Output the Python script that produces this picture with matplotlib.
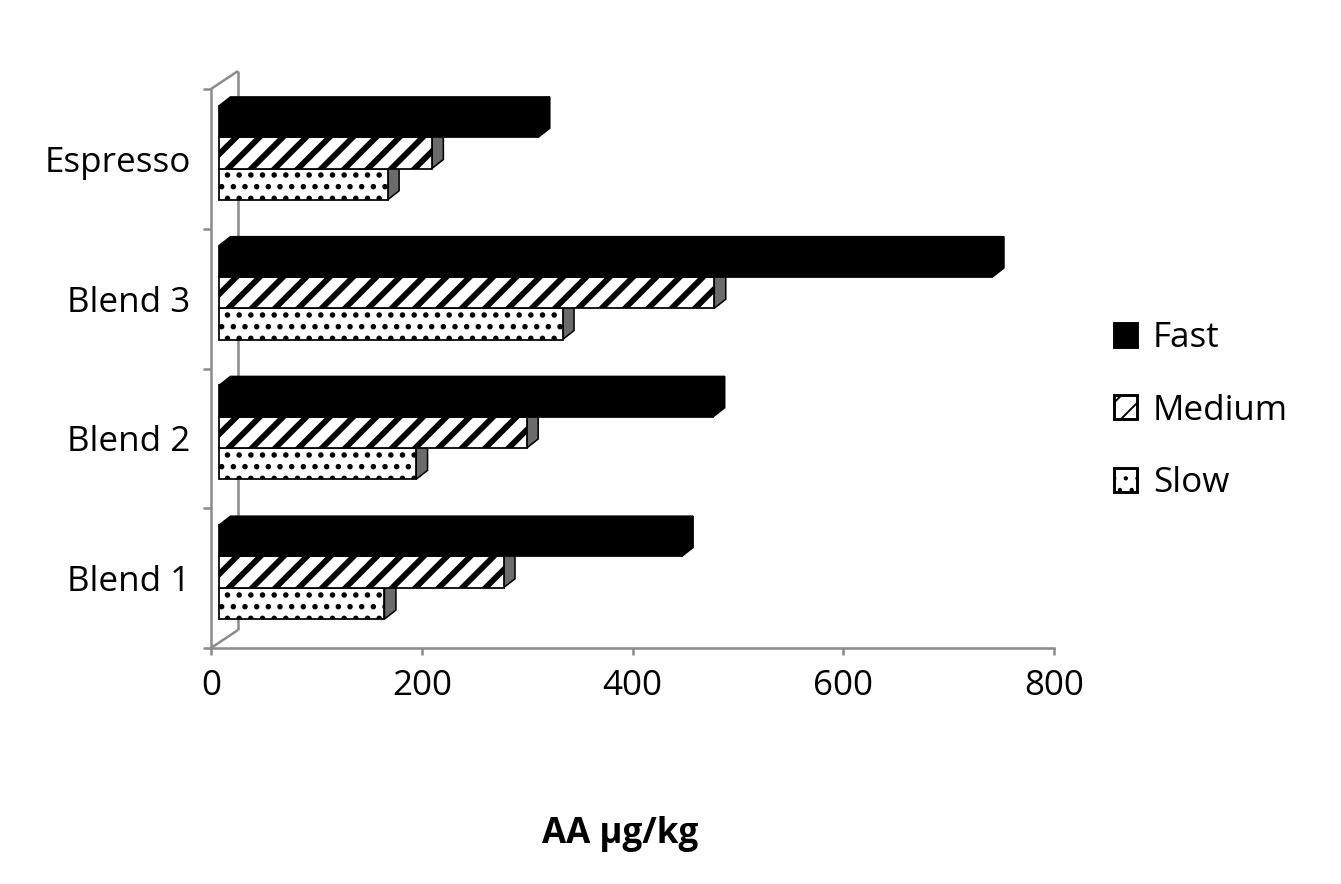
import matplotlib
matplotlib.use('Agg')
import matplotlib.pyplot as plt
from matplotlib.patches import Polygon, Patch

# ---------------- data ----------------
categories = ['Blend 1', 'Blend 2', 'Blend 3', 'Espresso']
fast = [439, 469, 734, 303]
medium = [270, 292, 470, 202]
slow = [157, 187, 326, 160]
series_names = ['Fast', 'Medium', 'Slow']
xticks = [0, 200, 400, 600, 800]
x_title = 'AA µg/kg'

# ---------------- figure ----------------
W, H, DPI = 1341, 884, 140
plt.rcParams['font.family'] = ['Open Sans', 'DejaVu Sans']
fig = plt.figure(figsize=(W / DPI, H / DPI), dpi=DPI)
fig.patch.set_facecolor('white')

ax = fig.add_axes([211 / W, (H - 648) / H, 843 / W, 559 / H])
ax.set_xlim(0, 800)
ax.set_ylim(-0.5, 3.5)
ax.patch.set_alpha(0)

ux = 800 / 843      # data units per pixel (x)
uy = 4 / 559        # data units per pixel (y)

GRAY = '#8c8c8c'
SIDE = '#6b6b6b'
wall_dx, wall_dy = 27 * ux, 18 * uy
bar_ox, bar_oy = 8 * ux, 6 * uy
bar_dx, bar_dy = 11.5 * ux, 9 * uy
h = 31.3 * uy

# ---------------- walls ----------------
y0, y1 = -0.5, 3.5
wall_kw = dict(color=GRAY, lw=1.3, clip_on=False, zorder=0.5, solid_capstyle='butt')
ax.plot([wall_dx, wall_dx], [y0 + wall_dy, y1 + wall_dy], **wall_kw)
ax.plot([0, wall_dx], [y1, y1 + wall_dy], **wall_kw)
ax.plot([0, wall_dx], [y0, y0 + wall_dy], **wall_kw)

for side in ['top', 'right']:
    ax.spines[side].set_visible(False)
for side in ['left', 'bottom']:
    ax.spines[side].set_color(GRAY)
    ax.spines[side].set_linewidth(1.3)
    ax.spines[side].set_zorder(0.5)

# ---------------- bars ----------------
styles = [
    ('Slow', slow, -1, 'white', '..', 1.6, SIDE),
    ('Medium', medium, 0, 'white', '//', 3.0, SIDE),
    ('Fast', fast, 1, 'black', None, 1.0, 'black'),
]

z = 2
for name, vals, k, face, hatch, hlw, sidecol in styles:
    with plt.rc_context({'hatch.linewidth': hlw}):
        for i, v in enumerate(vals):
            yc = i + bar_oy + k * h
            yb, yt = yc - h / 2, yc + h / 2
            xl, xr = bar_ox, bar_ox + v
            top = Polygon([(xl, yt), (xl + bar_dx, yt + bar_dy),
                           (xr + bar_dx, yt + bar_dy), (xr, yt)],
                          closed=True, facecolor=sidecol, edgecolor='black',
                          lw=0.8, zorder=z, clip_on=False)
            right = Polygon([(xr, yb), (xr, yt), (xr + bar_dx, yt + bar_dy),
                             (xr + bar_dx, yb + bar_dy)],
                            closed=True, facecolor=sidecol, edgecolor='black',
                            lw=0.8, zorder=z, clip_on=False)
            ax.add_patch(top)
            ax.add_patch(right)
        bars = ax.barh([i + bar_oy + k * h for i in range(len(vals))], vals,
                       height=h, left=bar_ox, color=face, edgecolor='black',
                       linewidth=0.9, hatch=hatch, zorder=z + 0.1)
        for b in bars:
            if hasattr(b, 'set_hatch_linewidth'):
                b.set_hatch_linewidth(hlw)
    z += 1

# ---------------- axes ticks ----------------
ax.set_xticks(xticks)
ax.set_xticklabels([str(t) for t in xticks])
ax.tick_params(axis='x', direction='out', length=3.6, width=1.3, color=GRAY,
               labelsize=18, pad=7, labelcolor='black')
ax.set_yticks(range(len(categories)))
ax.set_yticklabels(categories)
ax.set_yticks([-0.5, 0.5, 1.5, 2.5, 3.5], minor=True)
ax.tick_params(axis='y', which='major', length=0, labelsize=18, pad=10.5,
               labelcolor='black')
ax.tick_params(axis='y', which='minor', length=4.1, width=1.3, color=GRAY)

fig.text(620 / W, 1 - 843 / H, x_title, ha='center', va='baseline',
         fontsize=18, fontweight='bold')

# ---------------- legend ----------------
leg_handles = []
for name in series_names:
    for n, vals, k, face, hatch, hlw, sidecol in styles:
        if n == name:
            p = Patch(facecolor=face, edgecolor='black', hatch=hatch, linewidth=1.5)
            if hasattr(p, 'set_hatch_linewidth'):
                p.set_hatch_linewidth(hlw)
            leg_handles.append(p)
leg = fig.legend(leg_handles, series_names, loc='center left',
                 bbox_to_anchor=(1114 / W, 1 - 410.5 / H), frameon=False,
                 fontsize=18, handlelength=0.66, handleheight=0.66,
                 handletextpad=0.45, labelspacing=1.1, borderpad=0,
                 borderaxespad=0)

fig.savefig('out.png', dpi=DPI, facecolor='white')
